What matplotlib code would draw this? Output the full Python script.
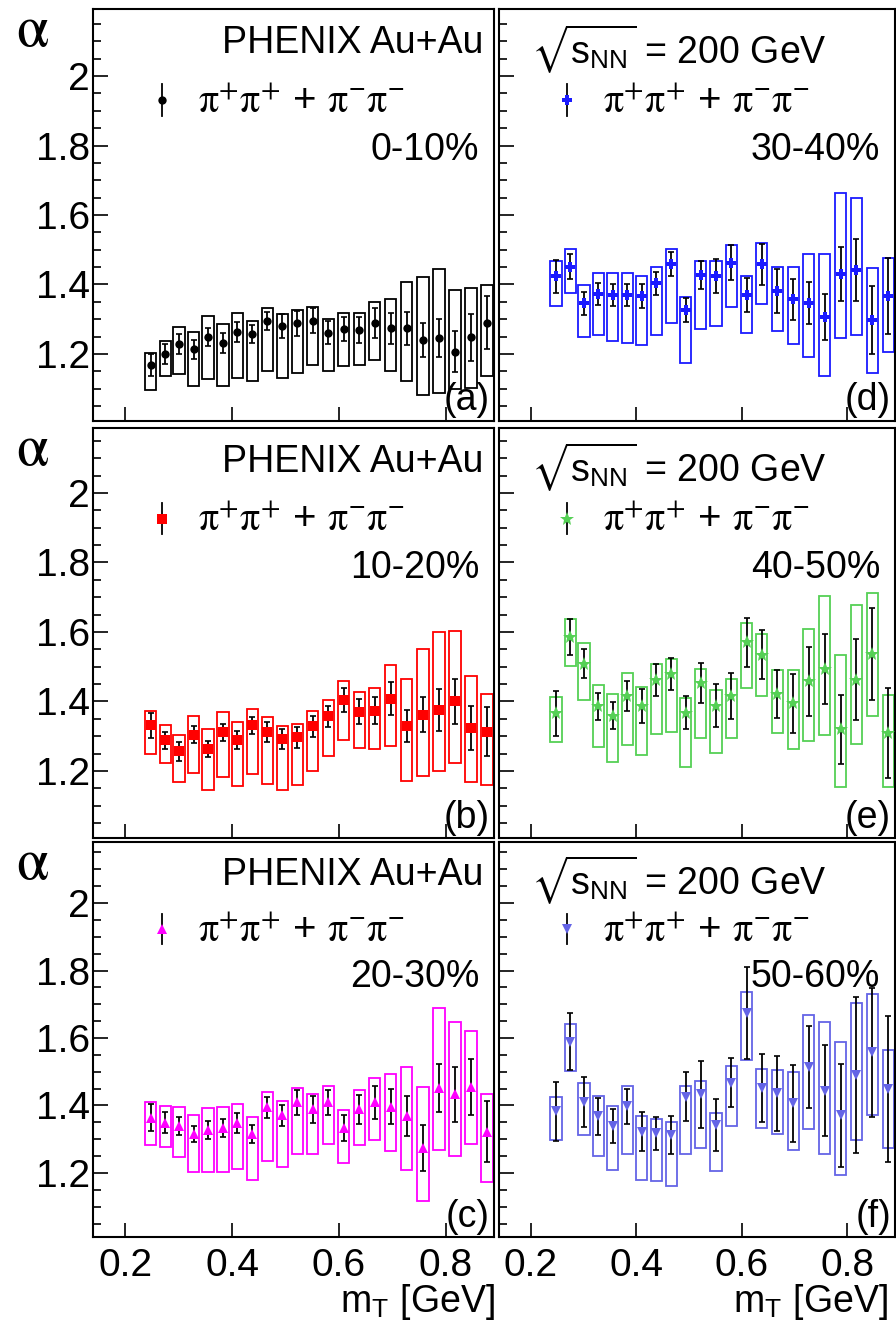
import matplotlib
matplotlib.use("Agg")
import matplotlib.pyplot as plt
from matplotlib.patches import Rectangle

# m_T bin centres [GeV]
m_T = [0.248, 0.275, 0.301, 0.328, 0.355, 0.383, 0.410, 0.438, 0.466, 0.494,
       0.522, 0.551, 0.580, 0.609, 0.638, 0.667, 0.697, 0.727, 0.757, 0.787,
       0.817, 0.847, 0.877]

# 0-10%
alpha_0_10 = [1.168, 1.200, 1.229, 1.213, 1.248, 1.231, 1.262, 1.257, 1.295, 1.281,
              1.288, 1.296, 1.261, 1.271, 1.269, 1.288, 1.274, 1.274, 1.240, 1.247,
              1.207, 1.248, 1.290]
stat_0_10 = [0.032, 0.029, 0.028, 0.027, 0.026, 0.028, 0.029, 0.025, 0.027, 0.034,
             0.036, 0.035, 0.033, 0.035, 0.037, 0.043, 0.045, 0.047, 0.048, 0.055,
             0.059, 0.068, 0.076]
syshi_0_10 = [0.036, 0.036, 0.048, 0.049, 0.061, 0.056, 0.055, 0.038, 0.036, 0.033,
              0.038, 0.040, 0.041, 0.046, 0.048, 0.061, 0.083, 0.134, 0.181, 0.197,
              0.177, 0.142, 0.109]
syslo_0_10 = [0.072, 0.063, 0.087, 0.105, 0.120, 0.122, 0.130, 0.134, 0.144, 0.149,
              0.142, 0.128, 0.110, 0.107, 0.101, 0.106, 0.123, 0.151, 0.158, 0.160,
              0.108, 0.147, 0.153]

# 10-20%
alpha_10_20 = [1.331, 1.288, 1.256, 1.304, 1.263, 1.311, 1.288, 1.331, 1.313, 1.292,
               1.297, 1.328, 1.357, 1.405, 1.371, 1.373, 1.408, 1.328, 1.362, 1.376,
               1.400, 1.323, 1.313]
stat_10_20 = [0.035, 0.025, 0.026, 0.024, 0.023, 0.025, 0.026, 0.024, 0.029, 0.030,
              0.030, 0.030, 0.030, 0.035, 0.037, 0.039, 0.047, 0.046, 0.050, 0.061,
              0.065, 0.063, 0.071]
syshi_10_20 = [0.042, 0.043, 0.048, 0.055, 0.058, 0.058, 0.052, 0.047, 0.041, 0.036,
               0.038, 0.045, 0.048, 0.055, 0.056, 0.067, 0.096, 0.137, 0.188, 0.224,
               0.204, 0.149, 0.109]
syslo_10_20 = [0.082, 0.065, 0.088, 0.109, 0.118, 0.129, 0.130, 0.140, 0.151, 0.147,
               0.138, 0.128, 0.115, 0.115, 0.104, 0.111, 0.136, 0.156, 0.176, 0.176,
               0.178, 0.156, 0.154]

# 20-30%
alpha_20_30 = [1.364, 1.349, 1.339, 1.315, 1.327, 1.334, 1.347, 1.315, 1.394, 1.371,
               1.409, 1.388, 1.409, 1.334, 1.388, 1.409, 1.396, 1.368, 1.274, 1.452,
               1.433, 1.455, 1.322]
stat_20_30 = [0.039, 0.031, 0.027, 0.024, 0.026, 0.027, 0.030, 0.027, 0.031, 0.031,
              0.036, 0.040, 0.036, 0.039, 0.044, 0.050, 0.052, 0.059, 0.067, 0.071,
              0.081, 0.083, 0.090]
syshi_20_30 = [0.047, 0.048, 0.057, 0.058, 0.064, 0.062, 0.057, 0.050, 0.045, 0.043,
               0.044, 0.045, 0.049, 0.052, 0.059, 0.071, 0.097, 0.145, 0.181, 0.238,
               0.213, 0.165, 0.112]
syslo_20_30 = [0.080, 0.071, 0.093, 0.112, 0.124, 0.131, 0.134, 0.135, 0.158, 0.153,
               0.153, 0.133, 0.122, 0.106, 0.106, 0.112, 0.132, 0.160, 0.158, 0.183,
               0.182, 0.168, 0.149]

# 30-40%
alpha_30_40 = [1.423, 1.451, 1.346, 1.372, 1.370, 1.370, 1.367, 1.403, 1.458, 1.327,
               1.427, 1.424, 1.463, 1.370, 1.458, 1.382, 1.357, 1.347, 1.307, 1.429,
               1.442, 1.298, 1.367]
stat_30_40 = [0.048, 0.036, 0.033, 0.032, 0.032, 0.032, 0.035, 0.032, 0.035, 0.035,
              0.040, 0.048, 0.050, 0.050, 0.059, 0.063, 0.059, 0.061, 0.066, 0.078,
              0.090, 0.098, 0.110]
syshi_30_40 = [0.045, 0.050, 0.053, 0.060, 0.062, 0.062, 0.058, 0.048, 0.043, 0.038,
               0.040, 0.044, 0.051, 0.055, 0.060, 0.069, 0.094, 0.142, 0.182, 0.235,
               0.208, 0.148, 0.110]
syslo_30_40 = [0.086, 0.075, 0.096, 0.117, 0.134, 0.139, 0.141, 0.149, 0.168, 0.153,
               0.155, 0.143, 0.127, 0.110, 0.114, 0.115, 0.129, 0.157, 0.171, 0.184,
               0.187, 0.152, 0.162]

# 40-50%
alpha_40_50 = [1.366, 1.585, 1.509, 1.386, 1.359, 1.416, 1.386, 1.463, 1.479, 1.368,
               1.453, 1.388, 1.416, 1.570, 1.535, 1.421, 1.395, 1.458, 1.493, 1.320,
               1.463, 1.537, 1.309]
stat_40_50 = [0.064, 0.052, 0.041, 0.039, 0.038, 0.043, 0.049, 0.046, 0.047, 0.047,
              0.058, 0.062, 0.066, 0.071, 0.070, 0.069, 0.085, 0.099, 0.100, 0.100,
              0.116, 0.132, 0.130]
syshi_40_50 = [0.046, 0.051, 0.060, 0.060, 0.063, 0.065, 0.055, 0.046, 0.044, 0.041,
               0.041, 0.044, 0.048, 0.056, 0.060, 0.070, 0.096, 0.151, 0.210, 0.214,
               0.214, 0.176, 0.109]
syslo_40_50 = [0.082, 0.082, 0.106, 0.118, 0.134, 0.141, 0.141, 0.156, 0.167, 0.156,
               0.159, 0.135, 0.122, 0.130, 0.118, 0.113, 0.133, 0.173, 0.189, 0.167,
               0.186, 0.178, 0.154]

# 50-60%
alpha_50_60 = [1.383, 1.589, 1.411, 1.368, 1.339, 1.398, 1.322, 1.317, 1.312, 1.426,
               1.433, 1.342, 1.468, 1.675, 1.452, 1.436, 1.406, 1.513, 1.444, 1.371,
               1.490, 1.557, 1.448]
stat_50_60 = [0.087, 0.084, 0.074, 0.055, 0.050, 0.052, 0.058, 0.050, 0.057, 0.072,
              0.099, 0.076, 0.074, 0.136, 0.100, 0.112, 0.115, 0.122, 0.136, 0.153,
              0.231, 0.192, 0.216]
syshi_50_60 = [0.043, 0.051, 0.056, 0.060, 0.059, 0.059, 0.048, 0.043, 0.038, 0.032,
               0.040, 0.037, 0.050, 0.062, 0.055, 0.069, 0.094, 0.155, 0.202, 0.216,
               0.215, 0.172, 0.117]
syslo_50_60 = [0.086, 0.086, 0.099, 0.118, 0.131, 0.143, 0.142, 0.142, 0.150, 0.170,
               0.158, 0.137, 0.129, 0.139, 0.119, 0.121, 0.137, 0.183, 0.188, 0.176,
               0.193, 0.186, 0.173]

centralities = ["0-10%", "10-20%", "20-30%", "30-40%", "40-50%", "50-60%"]
panel_tags = ["(a)", "(b)", "(c)", "(d)", "(e)", "(f)"]

plt.rcParams['font.family'] = ['Liberation Sans', 'DejaVu Sans']
plt.rcParams['mathtext.fontset'] = 'stix'

fig = plt.figure(figsize=(8.96, 13.2), dpi=100)

W, H = 896.0, 1320.0
col_x = [(93, 494), (499, 895)]
row_y = [(9, 421), (428, 838), (842, 1237)]
row_ylim = [(1.007, 2.193), (1.007, 2.187), (1.010, 2.181)]

# (values, stat, sys up, sys down, colour, marker, size)
panels = [
    (alpha_0_10, stat_0_10, syshi_0_10, syslo_0_10, "black", "o", 6),
    (alpha_10_20, stat_10_20, syshi_10_20, syslo_10_20, "#ff0000", "s", 6.5),
    (alpha_20_30, stat_20_30, syshi_20_30, syslo_20_30, "#ff00ff", "^", 6.5),
    (alpha_30_40, stat_30_40, syshi_30_40, syslo_30_40, "#1a1aff", "P", 7.5),
    (alpha_40_50, stat_40_50, syshi_40_50, syslo_40_50, "#55d055", "*", 10),
    (alpha_50_60, stat_50_60, syshi_50_60, syslo_50_60, "#6464e6", "v", 6.5),
]

fs = 27
box_hw = 0.0105

for k, (vals, stat, shi, slo, col, mk, ms) in enumerate(panels):
    c = k // 3
    r = k % 3
    x0, x1 = col_x[c]
    y0, y1 = row_y[r]
    ax = fig.add_axes([x0 / W, 1 - y1 / H, (x1 - x0) / W, (y1 - y0) / H])

    # systematic boxes
    for x, v, hi, lo in zip(m_T, vals, shi, slo):
        ax.add_patch(Rectangle((x - box_hw, v - lo), 2 * box_hw, hi + lo,
                               fill=False, edgecolor=col, lw=1.3, zorder=2))
    ax.errorbar(m_T, vals, yerr=stat, fmt='none', ecolor='black', elinewidth=1.3,
                capsize=2.5, capthick=1.2, zorder=3)
    ax.plot(m_T, vals, ls='none', marker=mk, color=col, ms=ms, mew=0, zorder=4)

    ax.set_xlim(0.14, 0.89)
    ax.set_ylim(*row_ylim[r])
    ax.set_xticks([0.2, 0.4, 0.6, 0.8])
    ax.set_yticks([1.2, 1.4, 1.6, 1.8, 2.0])
    ax.set_yticks([1.05, 1.1, 1.15, 1.25, 1.3, 1.35, 1.45, 1.5, 1.55, 1.65, 1.7, 1.75,
                   1.85, 1.9, 1.95, 2.05, 2.1, 2.15], minor=True)
    ax.set_yticklabels(["1.2", "1.4", "1.6", "1.8", "2"])
    ax.set_xticklabels(["0.2", "0.4", "0.6", "0.8"])
    ax.tick_params(axis='both', which='both', direction='in', top=False, right=False,
                   labelsize=28, width=1.2)
    ax.tick_params(axis='y', which='major', length=11, pad=2)
    ax.tick_params(axis='y', which='minor', length=6)
    ax.tick_params(axis='x', which='major', length=10, pad=8)
    if c == 1:
        ax.tick_params(axis='y', labelleft=False)
    if r != 2:
        ax.tick_params(axis='x', labelbottom=False)
    for s in ax.spines.values():
        s.set_linewidth(1.5)

    # annotations
    if c == 0:
        ax.text(0.973, 0.917, "PHENIX Au+Au", transform=ax.transAxes, ha='right',
                va='center', fontsize=fs)
    else:
        ax.text(0.08, 0.905,
                r"$\sqrt{\mathregular{s}_{\mathregular{NN}}}$" + " = 200 GeV",
                transform=ax.transAxes, ha='left', va='center', fontsize=fs)
    ax.plot([0.172, 0.172], [0.741, 0.817], color='black', lw=1.3,
            transform=ax.transAxes, zorder=5)
    ax.plot([0.172], [0.779], ls='none', marker=mk, color=col, ms=ms, mew=0,
            transform=ax.transAxes, zorder=6)
    ax.text(0.262, 0.775,
            r"$\mathrm{\pi}^{+}\mathrm{\pi}^{+}$ + $\mathrm{\pi}^{\mathregular{-}}\mathrm{\pi}^{\mathregular{-}}$",
            transform=ax.transAxes, ha='left', va='center', fontsize=fs + 2)
    ax.text(0.963, 0.658, centralities[k], transform=ax.transAxes, ha='right',
            va='center', fontsize=fs)
    ax.text(0.99, 0.05, panel_tags[k], transform=ax.transAxes, ha='right',
            va='center', fontsize=fs)

# alpha labels
for y0, y1 in row_y:
    fig.text(32 / W, 1 - (y0 + 22) / H, r"$\mathrm{\alpha}$",
             fontsize=42, ha='center', va='center')

fig.text(495 / W, 1 - 1302 / H, r"m$_{\mathregular{T}}$ [GeV]", ha='right',
         va='center', fontsize=fs)
fig.text(888 / W, 1 - 1302 / H, r"m$_{\mathregular{T}}$ [GeV]", ha='right',
         va='center', fontsize=fs)

fig.savefig("out.png", dpi=100)
